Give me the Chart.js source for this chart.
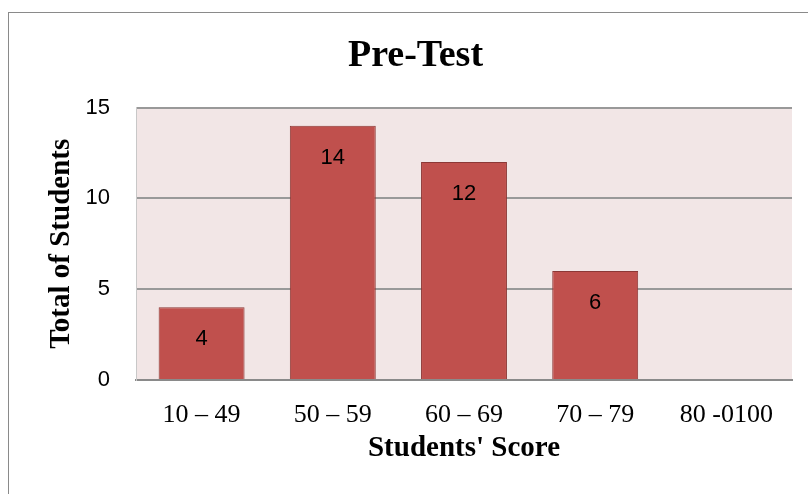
<!DOCTYPE html>
<html>
<head>
<meta charset="utf-8">
<script src="https://cdn.jsdelivr.net/npm/chart.js@4.4.1/dist/chart.umd.min.js"></script>
<style>
  html, body { margin: 0; padding: 0; background: #fff; overflow: hidden; }
  #wrap { position: relative; width: 808px; height: 494px; }
  #frame { position: absolute; left: 8px; top: 12px; width: 830px; height: 520px; border: 1.5px solid #8a8a8a; box-sizing: border-box; pointer-events: none; }
  canvas { position: absolute; left: 0; top: 0; }
</style>
</head>
<body>
<div id="wrap">
  <div id="frame"></div>
  <canvas id="c" width="808" height="494"></canvas>
</div>
<script>
const categories = ["10 \u2013 49", "50 \u2013 59", "60 \u2013 69", "70 \u2013 79", "80 -0100"];
const students = [4, 14, 12, 6, 0];
const yTicks = [0, 5, 10, 15];
const chartTitle = "Pre-Test";
const xTitle = "Students' Score";
const yTitle = "Total of Students";

const plotBg = {
  id: 'plotBg',
  beforeDraw(chart) {
    const {ctx, chartArea: a} = chart;
    ctx.save();
    ctx.fillStyle = '#F2E6E6';
    ctx.fillRect(a.left, a.top, a.right - a.left, a.bottom - a.top);
    ctx.restore();
  }
};

const barLabels = {
  id: 'barLabels',
  afterDatasetsDraw(chart) {
    const {ctx} = chart;
    const meta = chart.getDatasetMeta(0);
    ctx.save();
    ctx.font = '22px "Liberation Sans", Arial, sans-serif';
    ctx.fillStyle = '#000';
    ctx.textAlign = 'center';
    ctx.textBaseline = 'middle';
    meta.data.forEach((bar, i) => {
      const v = chart.data.datasets[0].data[i];
      if (!v) return;
      ctx.fillText(String(v), bar.x, bar.y + 32);
    });
    ctx.restore();
  }
};

new Chart(document.getElementById('c'), {
  type: 'bar',
  data: {
    labels: categories,
    datasets: [{
      data: students,
      backgroundColor: '#C0504D',
      borderColor: '#8C3836',
      borderWidth: 1,
      barPercentage: 0.655,
      categoryPercentage: 1.0
    }]
  },
  options: {
    responsive: false,
    animation: false,
    layout: { padding: { left: 39, right: 16, top: 0, bottom: 0 } },
    plugins: {
      legend: { display: false },
      tooltip: { enabled: false },
      title: {
        display: true,
        text: chartTitle,
        color: '#000',
        font: { family: '"Liberation Serif", "Times New Roman", serif', size: 38, weight: 'bold', lineHeight: 1.2 },
        padding: { top: 33, bottom: 29 }
      }
    },
    scales: {
      x: {
        grid: { display: false, drawTicks: false },
        border: { display: true, color: '#8a8a8a', width: 2 },
        ticks: {
          color: '#000',
          padding: 20,
          font: { family: '"Liberation Serif", "Times New Roman", serif', size: 26 }
        },
        title: {
          display: true,
          text: xTitle,
          color: '#000',
          font: { family: '"Liberation Serif", "Times New Roman", serif', size: 29, weight: 'bold', lineHeight: 1.2 },
          padding: { top: 0, bottom: 28 }
        },
        afterFit(scale) { scale.height = 114; }
      },
      y: {
        min: 0,
        max: 15,
        afterBuildTicks(scale) { scale.ticks = yTicks.map(v => ({ value: v })); },
        grid: { color: '#999999', lineWidth: 2, drawTicks: false },
        border: { display: true, color: '#c8c8c8', width: 1 },
        ticks: {
          color: '#000',
          padding: 26,
          font: { family: '"Liberation Sans", Arial, sans-serif', size: 22 }
        },
        title: {
          display: true,
          text: yTitle,
          color: '#000',
          font: { family: '"Liberation Serif", "Times New Roman", serif', size: 29, weight: 'bold', lineHeight: 1.2 },
          padding: { top: 5, bottom: 0 }
        },
        afterFit(scale) { scale.width = 97; }
      }
    }
  },
  plugins: [plotBg, barLabels]
});
</script>
</body>
</html>
